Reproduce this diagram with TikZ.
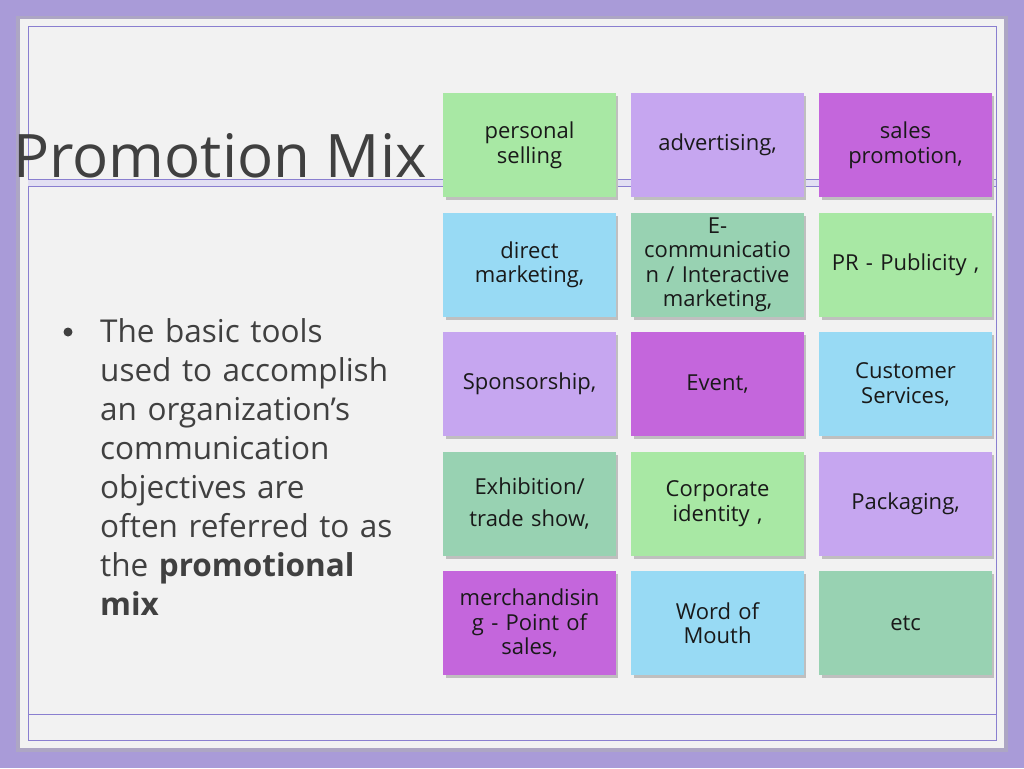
\documentclass[tikz,border=0pt]{standalone}
\usepackage{fontspec}
\setmainfont{Open Sans}
\begin{document}
\begin{tikzpicture}[x=1pt,y=-1pt,
 tile/.style={draw=none,minimum width=172pt,minimum height=104pt,anchor=north west,align=center,text width=166pt,font=\fontsize{22}{24.5}\selectfont,text=black!90},
 shadow/.style={fill=black!25}]
\definecolor{bgp}{HTML}{A99BD8}
\definecolor{gr}{HTML}{A8E8A4}
\definecolor{lv}{HTML}{C6A6F0}
\definecolor{mg}{HTML}{C466DC}
\definecolor{bl}{HTML}{98DAF4}
\definecolor{tl}{HTML}{98D2B2}
\definecolor{ln}{HTML}{8A7FD0}
\useasboundingbox (0,0) rectangle (1024,768);
\fill[bgp] (0,0) rectangle (1024,768);
\fill[black!30,opacity=.5] (16,16) rectangle (1008,752);
\fill[white!95!black] (20,19) rectangle (1004,748);
\draw[ln,line width=.8pt] (28,26) rectangle (996,740);
\fill[ln!25] (28,179) rectangle (996,186);
\draw[ln,line width=.6pt] (28,179) -- (996,179) (28,186) -- (996,186);
\draw[ln,line width=.8pt] (28,714) -- (996,714);
\node[anchor=base west,inner sep=0,font=\fontsize{60}{60}\selectfont,text=black!75] (title) at (13,177) {Promotion Mix};
\fill[black!75] (68,332) circle (4.5pt);
\node[anchor=north west,inner sep=0,text width=330pt,align=left,font=\fontsize{31.5}{39}\selectfont,text=black!75] (body) at (100,318)
 {The basic tools\\ used to accomplish\\ an organization’s\\ communication\\ objectives are\\ often referred to as\\ the \textbf{promotional}\\ \textbf{mix}};
\foreach \n/\c/\r/\col/\t in {
 a/0/0/gr/{personal\\selling\\[10pt]},
 b/1/0/lv/{advertising,},
 c/2/0/mg/{sales\\promotion,\\[10pt]},
 d/0/1/bl/{direct\\marketing,},
 e/1/1/tl/{E-\\communicatio\\n / Interactive\\marketing,},
 f/2/1/gr/{PR - Publicity ,},
 g/0/2/lv/{Sponsorship,},
 h/1/2/mg/{Event,},
 i/2/2/bl/{Customer\\Services,\\[10pt]},
 j/0/3/tl/{Exhibition/\\[8pt]trade show,\\[6pt]},
 k/1/3/gr/{Corporate\\identity ,\\[10pt]},
 l/2/3/lv/{Packaging,\\[20pt]},
 m/0/4/mg/{merchandisin\\g - Point of\\sales,\\[20pt]},
 n/1/4/bl/{Word of\\Mouth\\[10pt]},
 o/2/4/tl/{etc}}{
 \fill[black!25] (443+\c*188+3,93+\r*119.5+3) rectangle ++(172,104);
 \node[tile,fill=\col] (\n) at (443+\c*188,93+\r*119.5) {\t};
}
\end{tikzpicture}
\end{document}
